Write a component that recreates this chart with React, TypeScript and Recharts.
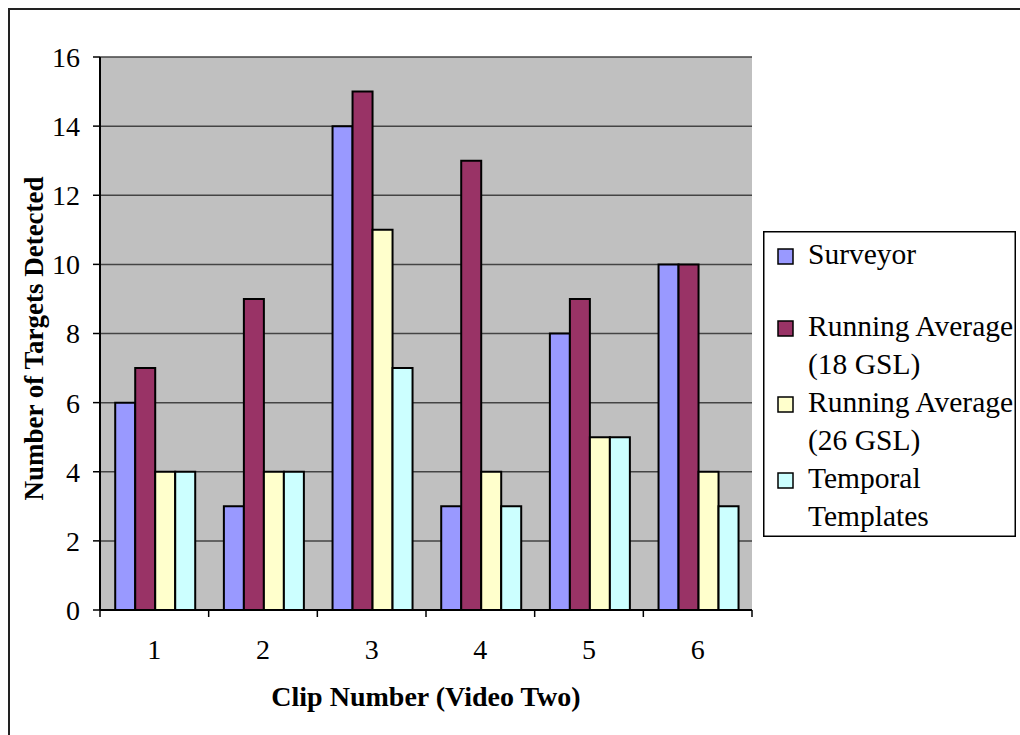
import { BarChart, Bar, XAxis, YAxis, CartesianGrid, Legend } from 'recharts'

const clips = ['1', '2', '3', '4', '5', '6']
const surveyor = [6, 3, 14, 3, 8, 10]
const runningAvg18 = [7, 9, 15, 13, 9, 10]
const runningAvg26 = [4, 4, 11, 4, 5, 4]
const temporalTemplates = [4, 4, 7, 3, 5, 3]
const yTicks = [0, 2, 4, 6, 8, 10, 12, 14, 16]

const seriesInfo = [
  { key: 'surveyor', lines: ['Surveyor'], fill: '#9999FF' },
  { key: 'ra18', lines: ['Running Average', '(18 GSL)'], fill: '#993366' },
  { key: 'ra26', lines: ['Running Average', '(26 GSL)'], fill: '#FFFFCC' },
  { key: 'temporal', lines: ['Temporal', 'Templates'], fill: '#CCFFFF' },
]

const data = clips.map((clip, i) => ({
  clip,
  surveyor: surveyor[i],
  ra18: runningAvg18[i],
  ra26: runningAvg26[i],
  temporal: temporalTemplates[i],
}))

const FONT = 'Liberation Serif, serif'
const LEGEND_W = 253
const LEGEND_H = 306
const LINE_H = 38

// category ticks: label in the middle, tick marks on the band edges
function ClipTick(props: any) {
  const { x, y, payload, index } = props
  const half = payload?.offset ?? 0
  const last = index === clips.length - 1
  return (
    <g>
      <line x1={x - half} x2={x - half} y1={y} y2={y + 7} stroke="#000" strokeWidth={1.5} />
      {last && <line x1={x + half} x2={x + half} y1={y} y2={y + 7} stroke="#000" strokeWidth={1.5} />}
      <text x={x} y={y + 49} textAnchor="middle" fontFamily={FONT} fontSize={28} fill="#000">
        {payload.value}
      </text>
    </g>
  )
}

function YTitle(props: any) {
  const { viewBox } = props
  const cx = viewBox.x + 14
  const cy = viewBox.y + viewBox.height / 2 + 5
  return (
    <text
      x={cx}
      y={cy}
      transform={`rotate(-90 ${cx} ${cy})`}
      textAnchor="middle"
      dominantBaseline="central"
      fontFamily={FONT}
      fontSize={27}
      fontWeight="bold"
      fill="#000"
    >
      Number of Targets Detected
    </text>
  )
}

// every legend entry takes two text lines, like the spreadsheet legend
function LegendBox() {
  return (
    <svg width={LEGEND_W} height={LEGEND_H} style={{ display: 'block' }}>
      <rect
        x={0.75}
        y={0.75}
        width={LEGEND_W - 1.5}
        height={LEGEND_H - 1.5}
        fill="#fff"
        stroke="#000"
        strokeWidth={1.5}
      />
      {seriesInfo.map((s, i) => {
        const base = i === 0 ? 33 : 105 + (i - 1) * 2 * LINE_H
        return (
          <g key={s.key}>
            <rect x={15} y={base - 15} width={15} height={15} fill={s.fill} stroke="#000" strokeWidth={1.5} />
            {s.lines.map((t, j) => (
              <text key={j} x={45} y={base + j * LINE_H} fontFamily={FONT} fontSize={29.5} fill="#000">
                {t}
              </text>
            ))}
          </g>
        )
      })}
    </svg>
  )
}

export default function App() {
  return (
    <div
      style={{
        position: 'fixed',
        left: 0,
        top: 0,
        width: 1020,
        height: 735,
        overflow: 'hidden',
        background: '#fff',
      }}
    >
      <div
        style={{
          position: 'absolute',
          left: 8,
          top: 8,
          width: 1100,
          height: 800,
          borderTop: '2px solid #222',
          borderLeft: '2px solid #222',
        }}
      />
      <div style={{ position: 'absolute', left: 0, top: 0 }}>
        <BarChart
          width={1020}
          height={735}
          data={data}
          margin={{ top: 57, right: 268, bottom: 65, left: 20 }}
          barGap={0}
          barCategoryGap="14%"
        >
          <CartesianGrid
            vertical={false}
            stroke="#444"
            strokeWidth={1.5}
            fill="#C0C0C0"
            fillOpacity={1}
          />
          <XAxis
            dataKey="clip"
            height={60}
            tickLine={false}
            tickSize={0}
            tickMargin={0}
            axisLine={{ stroke: '#000', strokeWidth: 2 }}
            tick={<ClipTick />}
            interval={0}
            label={{
              value: 'Clip Number (Video Two)',
              position: 'bottom',
              offset: 16,
              fontFamily: FONT,
              fontSize: 28,
              fontWeight: 'bold',
              fill: '#000',
            }}
          />
          <YAxis
            width={80}
            domain={[0, 16]}
            ticks={yTicks}
            interval={0}
            tickSize={7}
            tickMargin={13}
            tickLine={{ stroke: '#000', strokeWidth: 1.5 }}
            axisLine={{ stroke: '#000', strokeWidth: 2 }}
            tick={{ fontFamily: FONT, fontSize: 28, fill: '#000' }}
            label={{ content: <YTitle /> }}
          />
          <YAxis
            yAxisId="edge"
            orientation="right"
            width={0}
            tick={false}
            tickLine={false}
            axisLine={{ stroke: '#808080', strokeWidth: 2 }}
          />
          <Legend
            layout="vertical"
            align="center"
            verticalAlign="middle"
            content={<LegendBox />}
            wrapperStyle={{ left: 763, top: 231, width: LEGEND_W, height: LEGEND_H }}
          />
          {seriesInfo.map((s) => (
            <Bar
              key={s.key}
              dataKey={s.key}
              fill={s.fill}
              stroke="#000"
              strokeWidth={2}
              isAnimationActive={false}
            />
          ))}
        </BarChart>
      </div>
    </div>
  )
}
